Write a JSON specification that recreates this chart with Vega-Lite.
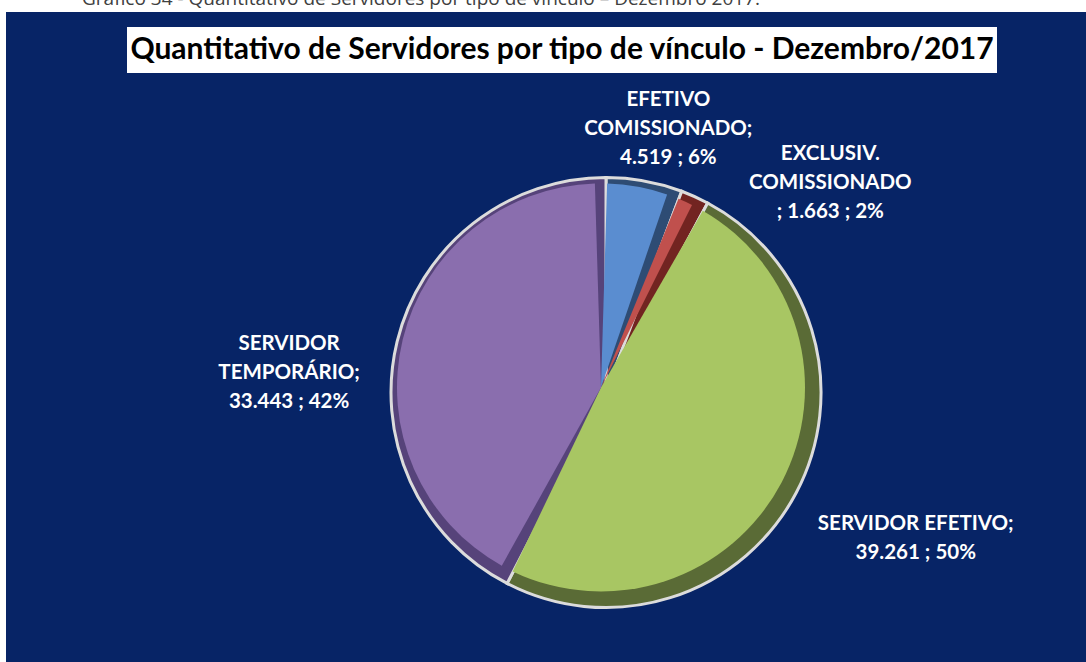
{
  "$schema": "https://vega.github.io/schema/vega-lite/v6.json",
  "background": "#ffffff",
  "padding": {"left": 6, "top": 0, "right": 0, "bottom": 0},
  "config": {"view": {"stroke": null}},
  "spacing": 0,
  "bounds": "full",
  "vconcat": [
    {
      "width": 830,
      "height": 12,
      "data": {"values": [{"legenda": "Gráfico 34 - Quantitativo de Servidores por tipo de vínculo – Dezembro 2017."}]},
      "mark": {"type": "text", "clip": true, "font": "Open Sans", "fontSize": 19, "color": "#404040", "baseline": "alphabetic", "align": "center", "dy": -1.5},
      "encoding": {"text": {"field": "legenda", "type": "nominal"}}
    },
    {
      "spacing": 0,
      "bounds": "full",
      "hconcat": [
        {
          "width": 121, "height": 61,
          "view": {"fill": "#072466"},
          "data": {"values": [{}]},
          "mark": {"type": "rect", "color": "#072466"},
          "encoding": {}
        },
        {
          "spacing": 0,
          "bounds": "flush",
          "vconcat": [
            {
              "width": 870, "height": 15,
              "view": {"fill": "#072466"},
              "data": {"values": [{}]},
              "mark": {"type": "rect", "color": "#072466"},
              "encoding": {}
            },
            {
              "width": 870, "height": 46,
              "view": {"fill": "#ffffff"},
              "data": {"values": [{"titulo": "Quantitativo de Servidores por tipo de vínculo - Dezembro/2017"}]},
              "mark": {"type": "text", "font": "Lato", "fontWeight": "bold", "fontSize": 30, "color": "#000000", "align": "center", "baseline": "middle"},
              "encoding": {"text": {"field": "titulo", "type": "nominal"}}
            }
          ]
        },
        {
          "width": 89, "height": 61,
          "view": {"fill": "#072466"},
          "data": {"values": [{}]},
          "mark": {"type": "rect", "color": "#072466"},
          "encoding": {}
        }
      ]
    },
    {
      "spacing": 0,
      "bounds": "flush",
      "hconcat": [
        {
          "width": 120, "height": 589,
          "view": {"fill": "#072466"},
          "data": {"values": [{}]},
          "mark": {"type": "rect", "color": "#072466"},
          "encoding": {}
        },
        {
          "width": 960, "height": 589,
          "view": {"fill": "#072466"},
          "data": {"values": [
            {"tipo": "EFETIVO COMISSIONADO", "valor": 4519, "ord": 1, "rotulo": "EFETIVO\nCOMISSIONADO;\n4.519 ; 6%"},
            {"tipo": "EXCLUSIV. COMISSIONADO", "valor": 1663, "ord": 2, "rotulo": "EXCLUSIV.\nCOMISSIONADO\n;  1.663 ; 2%"},
            {"tipo": "SERVIDOR EFETIVO", "valor": 39261, "ord": 3, "rotulo": "SERVIDOR EFETIVO;\n39.261 ; 50%"},
            {"tipo": "SERVIDOR TEMPORÁRIO", "valor": 33443, "ord": 4, "rotulo": "SERVIDOR\nTEMPORÁRIO;\n33.443 ; 42%"}
          ]},
          "encoding": {
            "theta": {"field": "valor", "type": "quantitative", "stack": true},
            "order": {"field": "ord", "type": "quantitative"}
          },
          "layer": [
            {
              "mark": {"type": "arc", "outerRadius": 215, "stroke": "#dcdcdc", "strokeWidth": 3, "yOffset": 25},
              "encoding": {
                "color": {"field": "tipo", "type": "nominal", "legend": null,
                  "scale": {"domain": ["EFETIVO COMISSIONADO", "EXCLUSIV. COMISSIONADO", "SERVIDOR EFETIVO", "SERVIDOR TEMPORÁRIO"],
                            "range": ["#2e4c74", "#722421", "#5a6b36", "#56437a"]}}
              }
            },
            {
              "mark": {"type": "arc", "outerRadius": 204, "padAngle": 0.06, "xOffset": -5, "yOffset": 20},
              "encoding": {
                "color": {"field": "tipo", "type": "nominal", "legend": null,
                  "scale": {"domain": ["EFETIVO COMISSIONADO", "EXCLUSIV. COMISSIONADO", "SERVIDOR EFETIVO", "SERVIDOR TEMPORÁRIO"],
                            "range": ["#5a8dd0", "#c0504d", "#a8c663", "#8a6eae"]}}
              }
            },
            {
              "mark": {"type": "text", "clip": true, "radius": 270, "yOffset": 25, "dx": 14, "dy": -27, "lineBreak": "\n", "font": "Lato", "fontWeight": "bold", "fontSize": 20.5, "lineHeight": 29, "color": "#ffffff", "align": "center", "baseline": "middle"},
              "encoding": {"text": {"condition": {"test": "datum.ord == 1", "field": "rotulo"}, "value": ""}}
            },
            {
              "mark": {"type": "text", "clip": true, "radius": 250, "yOffset": 25, "dx": 121, "dy": -11, "lineBreak": "\n", "font": "Lato", "fontWeight": "bold", "fontSize": 20.5, "lineHeight": 29, "color": "#ffffff", "align": "center", "baseline": "middle"},
              "encoding": {"text": {"condition": {"test": "datum.ord == 2", "field": "rotulo"}, "value": ""}}
            },
            {
              "mark": {"type": "text", "clip": true, "radius": 340, "yOffset": 25, "dx": 9, "dy": -27, "lineBreak": "\n", "font": "Lato", "fontWeight": "bold", "fontSize": 20.5, "lineHeight": 29, "color": "#ffffff", "align": "center", "baseline": "middle"},
              "encoding": {"text": {"condition": {"test": "datum.ord == 3", "field": "rotulo"}, "value": ""}}
            },
            {
              "mark": {"type": "text", "clip": true, "radius": 320, "yOffset": 25, "dx": -6, "dy": 27, "lineBreak": "\n", "font": "Lato", "fontWeight": "bold", "fontSize": 20.5, "lineHeight": 29, "color": "#ffffff", "align": "center", "baseline": "middle"},
              "encoding": {"text": {"condition": {"test": "datum.ord == 4", "field": "rotulo"}, "value": ""}}
            }
          ],
          "resolve": {"scale": {"color": "independent"}}
        }
      ]
    }
  ]
}
